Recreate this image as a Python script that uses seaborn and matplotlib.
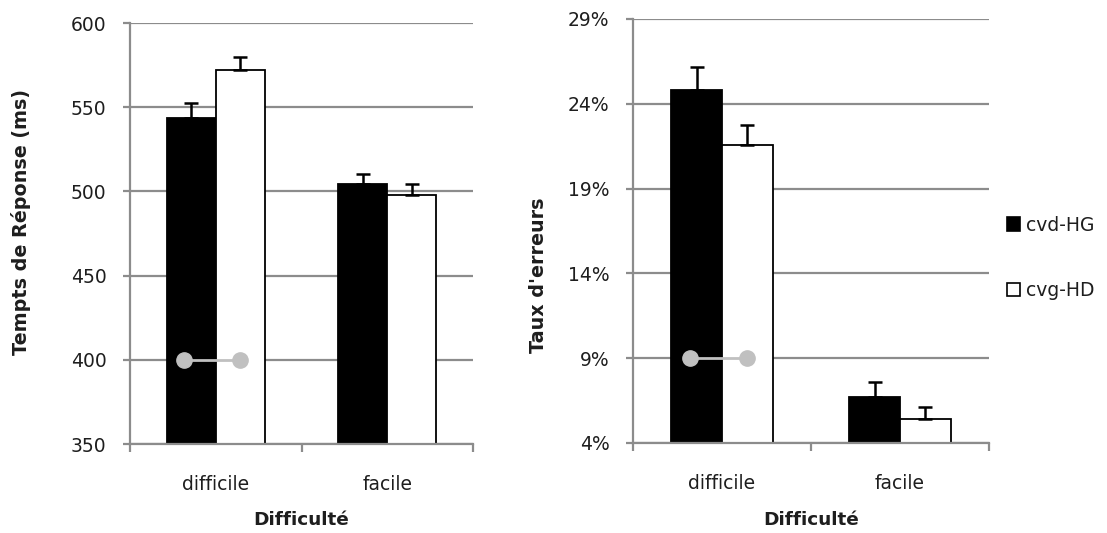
import matplotlib
matplotlib.use("Agg")
import matplotlib.pyplot as plt
import seaborn as sns
import pandas as pd
import numpy as np
from matplotlib.patches import Patch

# ---- data ----
categories = ["difficile", "facile"]
groups = ["cvd-HG", "cvg-HD"]
rt_cvd = [543.8, 504.4]
rt_cvg = [572.0, 498.0]
rt_err_cvd = [8.6, 5.7]
rt_err_cvg = [8.0, 6.4]
err_cvd = [24.83, 6.71]
err_cvg = [21.58, 5.41]
err_err_cvd = [1.33, 0.88]
err_err_cvg = [1.18, 0.74]
rt_ticks = [350, 400, 450, 500, 550, 600]
err_ticks = [4, 9, 14, 19, 24, 29]
rt_marker_level = 400
err_marker_level = 9

sns.set_style("white")
plt.rcParams['font.family'] = ['DejaVu Sans']

W, H = 1107, 533
fig = plt.figure(figsize=(W / 100, H / 100), dpi=100)
axL = fig.add_axes([130 / W, 1 - 444 / H, (473 - 130) / W, (444 - 23) / H])
axR = fig.add_axes([633 / W, 1 - 443 / H, (989 - 633) / W, (443 - 19) / H])

grey = "#8c8c8c"
txt = "#1e1e1e"
fs = 13.5


def make_df(v1, v2):
    return pd.DataFrame({
        "cat": categories * 2,
        "grp": [groups[0]] * 2 + [groups[1]] * 2,
        "val": list(v1) + list(v2),
    })


def draw(ax, v1, v2, e1, e2, ticks, fmt, marker_level, ylabel, ylabel_xy):
    df = make_df(v1, v2)
    sns.barplot(data=df, x="cat", y="val", hue="grp", order=categories,
                hue_order=groups, palette=["black", "white"], width=0.57,
                gap=0, edgecolor="black", linewidth=1.3, errorbar=None,
                legend=False, ax=ax, zorder=2)
    ax.set_ylim(ticks[0], ticks[-1])
    ax.set_xlim(-0.5, 1.5)
    ax.set_axisbelow(True)
    ax.yaxis.grid(True, color=grey, linewidth=1.6)
    ax.xaxis.grid(False)
    for s in ["top", "right"]:
        ax.spines[s].set_visible(False)
    for s in ["left", "bottom"]:
        ax.spines[s].set_color(grey)
        ax.spines[s].set_linewidth(1.6)

    # error bars (plus only)
    patches = [p for p in ax.patches if p.get_width() > 0]
    patches = sorted(patches, key=lambda p: p.get_x())
    vals = list(v1) + list(v2)
    errs = list(e1) + list(e2)
    centers = {}
    for p in patches:
        cx = p.get_x() + p.get_width() / 2
        h = p.get_height()
        for i, v in enumerate(vals):
            if abs(v - h) < 1e-9 and i not in centers:
                centers[i] = cx
                break
    for i, v in enumerate(vals):
        ax.errorbar(centers[i], v, yerr=[[0], [errs[i]]], fmt="none",
                    ecolor="black", elinewidth=1.8, capsize=5, capthick=1.8,
                    zorder=3)

    # grey connector
    ax.plot([centers[0] - 0.04, centers[2]], [marker_level, marker_level],
            color="#c0c0c0", linewidth=2, marker="o", markersize=11,
            zorder=4, clip_on=False)

    ax.set_yticks(ticks)
    ax.set_yticklabels([fmt(t) for t in ticks], fontsize=fs, color=txt)
    ax.tick_params(axis="y", length=5, width=1.6, color=grey, pad=12,
                   left=True)
    ax.set_xticks([0, 1])
    ax.set_xticklabels(categories, fontsize=fs, color=txt)
    ax.tick_params(axis="x", which="major", length=0, pad=22)
    ax.set_xticks([-0.5, 0.5, 1.5], minor=True)
    ax.tick_params(axis="x", which="minor", length=6, width=1.6, color=grey,
                   bottom=True)

    ax.set_xlabel("Difficulté", fontsize=13.3, fontweight="bold", color=txt)
    ax.xaxis.set_label_coords(0.5, -0.16)
    ax.set_ylabel(ylabel, fontsize=13.8, fontweight="bold", color=txt)
    ax.yaxis.set_label_coords(*ylabel_xy)


draw(axL, rt_cvd, rt_cvg, rt_err_cvd, rt_err_cvg, rt_ticks,
     lambda t: f"{t}", rt_marker_level, "Tempts de Réponse (ms)",
     (-0.288, 0.527))
draw(axR, err_cvd, err_cvg, err_err_cvd, err_err_cvg, err_ticks,
     lambda t: f"{t}%", err_marker_level, "Taux d'erreurs", (-0.238, 0.396))

handles = [Patch(facecolor="black", edgecolor="black", linewidth=1.2),
           Patch(facecolor="white", edgecolor="black", linewidth=1.2)]
fig.legend(handles, groups, loc="center left",
           bbox_to_anchor=(990 / W, 1 - 258 / H), frameon=False,
           fontsize=fs, handlelength=0.7, handleheight=0.7,
           handletextpad=0.3, labelspacing=2.5, labelcolor=txt)

fig.savefig("out.png", dpi=100)
